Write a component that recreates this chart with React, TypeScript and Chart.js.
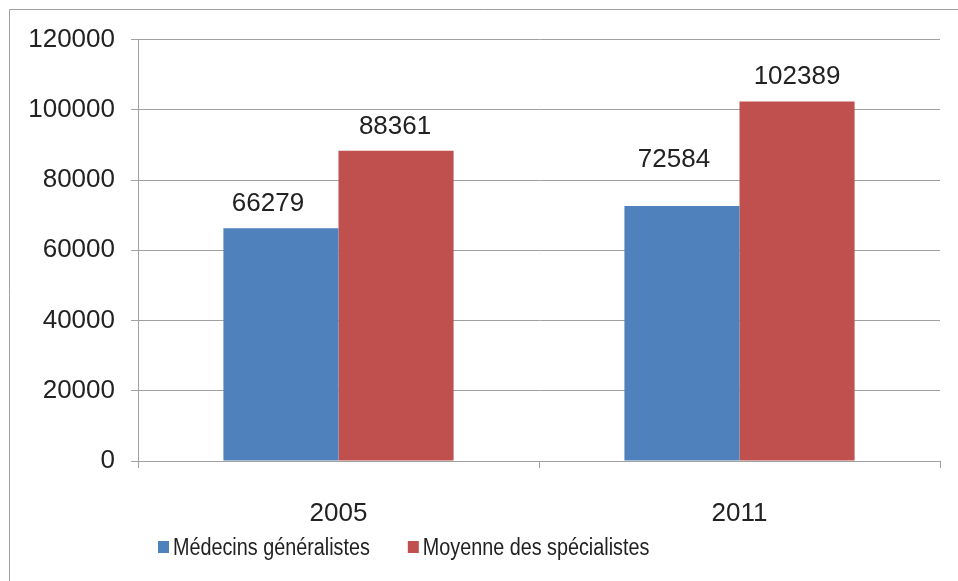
import React, { useEffect, useRef } from 'react';
import { Chart, registerables } from 'chart.js';

Chart.register(...registerables);

const categories = ['2005', '2011'];
const generalistes = [66279, 72584];
const specialistes = [88361, 102389];
const seriesNames = ['Médecins généralistes', 'Moyenne des spécialistes'];
const seriesColors = ['#4F81BD', '#C0504D'];
const yMin = 0;
const yMax = 120000;
const yStep = 20000;

const W = 950;
const H = 573;
const GRID = '#a0a0a0';
const TEXT = '#222222';
const FONT = "'Liberation Sans', Arial, sans-serif";

// small per-label nudges (dx, dy) to mimic the original label placement
const labelNudge = [
  [[-13, 0], [-8, -22]],
  [[-1, 0], [0, 0]],
];

const framePlugin = {
  id: 'frame',
  beforeDraw(chart: any) {
    const ctx = chart.ctx;
    ctx.save();
    ctx.fillStyle = '#ffffff';
    ctx.fillRect(0, 0, chart.width, chart.height);
    ctx.strokeStyle = GRID;
    ctx.lineWidth = 1;
    ctx.beginPath();
    ctx.moveTo(1.5, chart.height + 5);
    ctx.lineTo(1.5, 1.5);
    ctx.lineTo(chart.width + 5, 1.5);
    ctx.stroke();
    ctx.restore();
  },
};

const valueLabelPlugin = {
  id: 'valueLabels',
  afterDatasetsDraw(chart: any) {
    const ctx = chart.ctx;
    ctx.save();
    ctx.font = `26px ${FONT}`;
    ctx.fillStyle = TEXT;
    ctx.textAlign = 'center';
    ctx.textBaseline = 'alphabetic';
    chart.data.datasets.forEach((ds: any, i: number) => {
      const meta = chart.getDatasetMeta(i);
      meta.data.forEach((el: any, j: number) => {
        const n = (labelNudge[i] && labelNudge[i][j]) || [0, 0];
        ctx.fillText(String(ds.data[j]), el.x + n[0], el.y - 17 + n[1]);
      });
    });
    ctx.restore();
  },
};

const legendPlugin = {
  id: 'customLegend',
  afterDraw(chart: any) {
    const ctx = chart.ctx;
    ctx.save();
    ctx.font = `23px ${FONT}`;
    ctx.textBaseline = 'alphabetic';
    ctx.textAlign = 'left';
    const sx = 0.86;
    let x = 150;
    const boxTop = 533;
    const baseline = 547;
    chart.data.datasets.forEach((ds: any) => {
      ctx.fillStyle = ds.backgroundColor;
      ctx.fillRect(x, boxTop, 11, 12);
      ctx.fillStyle = TEXT;
      const tx = x + 15;
      ctx.save();
      ctx.translate(tx, baseline);
      ctx.scale(sx, 1);
      ctx.fillText(ds.label, 0, 0);
      ctx.restore();
      x = tx + ctx.measureText(ds.label).width * sx + 38;
    });
    ctx.restore();
  },
};

export default function App() {
  const ref = useRef<HTMLCanvasElement | null>(null);

  useEffect(() => {
    if (!ref.current) return;
    const chart = new Chart(ref.current, {
      type: 'bar',
      data: {
        labels: categories,
        datasets: [
          {
            label: seriesNames[0],
            data: generalistes,
            backgroundColor: seriesColors[0],
            categoryPercentage: 0.574,
            barPercentage: 1,
          },
          {
            label: seriesNames[1],
            data: specialistes,
            backgroundColor: seriesColors[1],
            categoryPercentage: 0.574,
            barPercentage: 1,
          },
        ],
      },
      options: {
        responsive: false,
        animation: false,
        layout: { padding: { top: 31, right: 18, bottom: 60, left: 0 } },
        plugins: {
          legend: { display: false },
          tooltip: { enabled: false },
        },
        scales: {
          x: {
            type: 'category',
            offset: true,
            grid: {
              offset: true,
              drawOnChartArea: false,
              drawTicks: true,
              tickLength: 7,
              color: GRID,
            },
            border: { display: true, color: GRID },
            ticks: {
              padding: 30,
              color: TEXT,
              font: { family: FONT, size: 26 },
              maxRotation: 0,
            },
            afterFit(scale: any) {
              scale.height = 60;
            },
          },
          y: {
            min: yMin,
            max: yMax,
            grid: { color: GRID, tickLength: 7, drawTicks: true },
            border: { display: true, color: GRID },
            ticks: {
              stepSize: yStep,
              padding: 16,
              color: TEXT,
              font: { family: FONT, size: 26 },
              callback: (v: any) => String(v),
            },
            afterFit(scale: any) {
              scale.width = 130;
            },
          },
        },
      },
      plugins: [framePlugin, valueLabelPlugin, legendPlugin],
    } as any);
    return () => chart.destroy();
  }, []);

  return (
    <div style={{ position: 'fixed', left: 8, top: 8, width: W, height: H, overflow: 'hidden' }}>
      <canvas ref={ref} width={W} height={H} style={{ display: 'block', width: W, height: H }} />
    </div>
  );
}
